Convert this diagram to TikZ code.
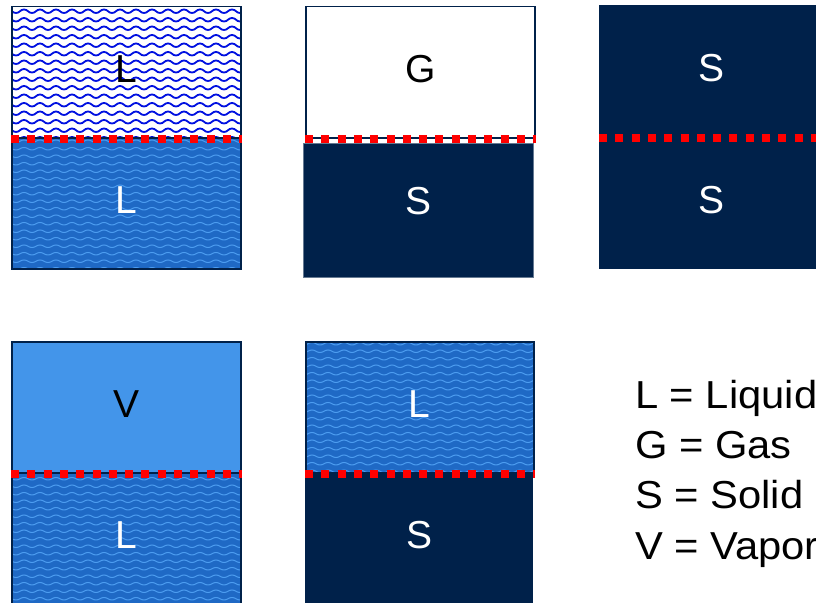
\documentclass[tikz,border=0pt]{standalone}
\usepackage{xcolor}
\usepackage{fontspec}
\setmainfont{Liberation Sans}
\newfontfamily\keyfont[FakeStretch=1.07]{Liberation Sans}
\usepackage{tikz}
\usetikzlibrary{positioning,patterns}

\definecolor{navy}{HTML}{00214A}
\definecolor{liqblue}{HTML}{1F69C5}
\definecolor{wavelight}{HTML}{4C9CF0}
\definecolor{vapblue}{HTML}{4395EA}
\definecolor{zigblue}{HTML}{0010E0}

% wavy fills
\pgfdeclarepatternformonly{zigwave}{\pgfpoint{-1pt}{-1pt}}{\pgfpoint{17pt}{9.5pt}}{\pgfpoint{16pt}{8.5pt}}{
  \pgfsetlinewidth{1.8pt}
  \pgfpathmoveto{\pgfpoint{0pt}{2.5pt}}
  \pgfpathcurveto{\pgfpoint{4pt}{2.5pt}}{\pgfpoint{4pt}{6pt}}{\pgfpoint{8pt}{6pt}}
  \pgfpathcurveto{\pgfpoint{12pt}{6pt}}{\pgfpoint{12pt}{2.5pt}}{\pgfpoint{16pt}{2.5pt}}
  \pgfusepath{stroke}}
\pgfdeclarepatternformonly{lightwave}{\pgfpoint{-1pt}{-1pt}}{\pgfpoint{17pt}{8.5pt}}{\pgfpoint{16pt}{7.5pt}}{
  \pgfsetlinewidth{1pt}
  \pgfpathmoveto{\pgfpoint{0pt}{2pt}}
  \pgfpathcurveto{\pgfpoint{4pt}{2pt}}{\pgfpoint{4pt}{4.5pt}}{\pgfpoint{8pt}{4.5pt}}
  \pgfpathcurveto{\pgfpoint{12pt}{4.5pt}}{\pgfpoint{12pt}{2pt}}{\pgfpoint{16pt}{2pt}}
  \pgfusepath{stroke}}

\begin{document}
\begin{tikzpicture}[x=1pt,y=-1pt]

    % Define styles
    \tikzstyle{phase} = [rectangle, inner sep=0pt, anchor=north west, minimum width=229pt, minimum height=131pt, text height=28pt, text depth=7pt, font=\fontsize{39}{46}\selectfont]
    \tikzstyle{liquid} = [phase, draw=navy, line width=1.5pt, preaction={fill=liqblue}, pattern=lightwave, pattern color=wavelight, text=white]
    \tikzstyle{liqtop} = [phase, draw=navy, line width=1.5pt, preaction={fill=white}, pattern=zigwave, pattern color=zigblue, text=black]
    \tikzstyle{gas} = [phase, draw=navy, line width=1.5pt, fill=white, text=black]
    \tikzstyle{vapor} = [phase, draw=navy, line width=1.5pt, fill=vapblue, text=black]
    \tikzstyle{solid} = [phase, draw=navy!60, line width=0.8pt, fill=navy, text=white]
    \tikzstyle{interface} = [line width=8pt, red, dash pattern=on 8pt off 8.3pt]
    \tikzstyle{legend} = [anchor=base west, inner sep=0pt, font=\keyfont\fontsize{39}{46}\selectfont]

    \useasboundingbox (0,0) rectangle (816,602);

    % Liquid over liquid
    \node [liqtop] (ll_top) at (11,6) {L};
    \node [liquid] (ll_bot) at (11,137) {L};

    % Gas over solid
    \node [gas] (gs_top) at (305,6) {G};
    \node [solid, minimum width=230pt, minimum height=134pt, text depth=20pt] (gs_bot) at (303,143) {S};

    % Solid over solid
    \node [solid, draw=none, minimum width=224pt, minimum height=132pt] (ss_top) at (599,5) {S};
    \node [solid, draw=none, minimum width=224pt, minimum height=132pt] (ss_bot) at (599,137) {S};

    % Vapor over liquid
    \node [vapor] (vl_top) at (11,341) {V};
    \node [liquid] (vl_bot) at (11,472) {L};

    % Liquid over solid
    \node [liquid, minimum width=228pt] (ls_top) at (305,341) {L};
    \node [solid, draw=none, minimum width=228pt] (ls_bot) at (305,472) {S};

    % Key
    \node [legend] (key_l) at (635,408) {L = Liquid};
    \node [legend] (key_g) at (635,458) {G = Gas};
    \node [legend] (key_s) at (635,508) {S = Solid};
    \node [legend] (key_v) at (635,559) {V = Vapor};

    % Interfaces
    \draw [interface] (ll_top.south west) -- (ll_top.south east);
    \draw [interface] (gs_top.south west) -- (gs_top.south east);
    \draw [interface] (ss_top.south west) -- (ss_top.south east);
    \draw [interface] (vl_top.south west) -- (vl_top.south east);
    \draw [interface] (ls_top.south west) -- (ls_top.south east);

\end{tikzpicture}
\end{document}
